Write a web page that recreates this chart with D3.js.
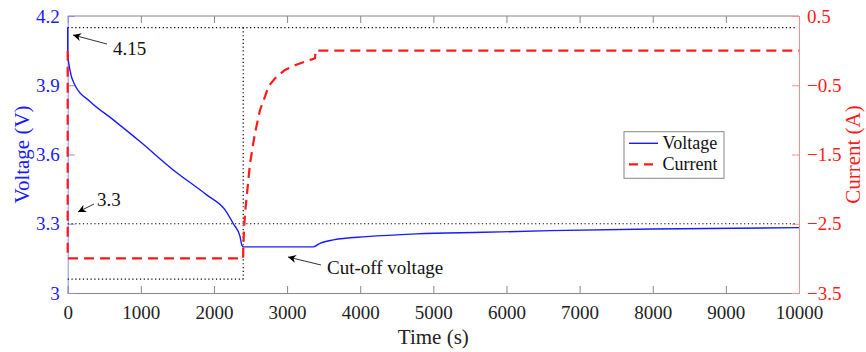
<!DOCTYPE html>
<html>
<head>
<meta charset="utf-8">
<script src="https://cdn.jsdelivr.net/npm/d3@7"></script>
<style>
  body { margin: 0; background: #fff; }
</style>
</head>
<body>
<div class="container"></div>
<script>
// voltage (V) vs time (s)
const voltageTime = [0, 0, 31, 100, 305, 624, 989, 1444, 1900, 2151, 2265, 2357, 2380, 2400, 3360, 3450, 3632, 4088, 4772, 5680, 6595, 8000, 10000]
const voltageVals = [4.15, 4.04, 3.966, 3.90, 3.83, 3.75, 3.656, 3.533, 3.425, 3.36, 3.30, 3.244, 3.208, 3.20, 3.20, 3.215, 3.23, 3.244, 3.256, 3.263, 3.27, 3.277, 3.283]

// current (A) vs time (s)
const currentTime = [0, 0, 2400, 2400, 2410, 2425, 2493, 2561, 2630, 2698, 2743, 2835, 2971, 3108, 3382, 3390, 10000]
const currentVals = [0, -3, -3, -2.9, -2.6, -2.35, -1.63, -1.19, -0.857, -0.665, -0.52, -0.40, -0.28, -0.21, -0.11, 0, 0]

const xTicks = [0, 1000, 2000, 3000, 4000, 5000, 6000, 7000, 8000, 9000, 10000]
const vTicks = [3, 3.3, 3.6, 3.9, 4.2]
const iTicks = [0.5, -0.5, -1.5, -2.5, -3.5]

const margin = {top: 16, left: 67.7, right: 67, bottom: 59}
const W = 866, H = 352
const w = W - margin.left - margin.right
const h = H - margin.top - margin.bottom
const serif = 'Liberation Serif'

const root = d3.select('.container')
    .append('svg')
    .attr('width', W)
    .attr('height', H)
    .attr('font-family', serif)
const svg = root.append('g')
    .attr('transform', `translate(${margin.left}, ${margin.top})`)

const x = d3.scaleLinear().domain([0, 10000]).range([0, w])
const yV = d3.scaleLinear().domain([3, 4.2]).range([h, 0])
const yI = d3.scaleLinear().domain([-3.5, 0.5]).range([h, 0])

const blue = '#1a1aff', red = '#ff1a1a'

// axes
const xAxisB = svg.append('g').attr('transform', `translate(0, ${h})`)
    .call(d3.axisBottom(x).tickValues(xTicks).tickSize(-7).tickPadding(13).tickFormat(d3.format('d')))
const xAxisT = svg.append('g')
    .call(d3.axisTop(x).tickValues(xTicks).tickSize(-7).tickFormat(''))
;[xAxisB, xAxisT].forEach(g => {
    g.selectAll('path, line').attr('stroke', '#888')
    g.selectAll('text').attr('fill', '#222')
})
xAxisT.select('.domain').remove()
svg.append('line').attr('x1', 0).attr('x2', w).attr('y1', 0).attr('y2', 0).attr('stroke', '#888')

const yAxisL = svg.append('g')
    .call(d3.axisLeft(yV).tickValues(vTicks).tickSize(-7).tickPadding(8).tickFormat(d3.format('')))
yAxisL.selectAll('path, line').attr('stroke', '#8a8aff')
yAxisL.selectAll('text').attr('fill', blue)

const yAxisR = svg.append('g').attr('transform', `translate(${w}, 0)`)
    .call(d3.axisRight(yI).tickValues(iTicks).tickSize(-7).tickPadding(8).tickFormat(d3.format('')))
yAxisR.selectAll('path, line').attr('stroke', '#ff8a8a')
yAxisR.selectAll('text').attr('fill', red)

;[xAxisB, xAxisT, yAxisL, yAxisR].forEach(g => g.attr('font-family', serif).attr('font-size', 19))
svg.selectAll('.domain').attr('fill', 'none')

// dotted guides
const dotted = (x1, y1, x2, y2) => svg.append('line')
    .attr('x1', x1).attr('y1', y1).attr('x2', x2).attr('y2', y2)
    .attr('stroke', '#000').attr('stroke-width', 1.2).attr('stroke-dasharray', '1.2,2.6')
dotted(x(0), yV(4.15), x(9970), yV(4.15))
dotted(x(0), yV(3.3), x(9970), yV(3.3))
dotted(x(0), yV(3.06), x(2400), yV(3.06))
dotted(x(2400), yV(4.15), x(2400), yV(3.06))

// series
const vData = voltageTime.map((t, i) => [t, voltageVals[i]])
const iData = currentTime.map((t, i) => [t, currentVals[i]])

svg.append('path').datum(vData)
    .attr('fill', 'none').attr('stroke', blue).attr('stroke-width', 1.4)
    .attr('d', d3.line().x(d => x(d[0])).y(d => yV(d[1])).curve(d3.curveMonotoneX))

svg.append('path').datum(iData)
    .attr('fill', 'none').attr('stroke', red).attr('stroke-width', 2.2)
    .attr('stroke-dasharray', '10,6')
    .attr('d', d3.line().x(d => x(d[0])).y(d => yI(d[1])))

// axis titles
svg.append('text').attr('x', w / 2).attr('y', h + 51).attr('text-anchor', 'middle')
    .attr('font-size', 21).attr('fill', '#222').text('Time (s)')
svg.append('text').attr('transform', `translate(${-39}, ${h / 2}) rotate(-90)`)
    .attr('text-anchor', 'middle').attr('font-size', 21).attr('fill', blue).text('Voltage (V)')
svg.append('text').attr('transform', `translate(${w + 61}, ${h / 2}) rotate(-90)`)
    .attr('text-anchor', 'middle').attr('font-size', 21).attr('fill', red).text('Current (A)')

// legend
const lg = svg.append('g').attr('transform', `translate(${624 - margin.left}, ${131.7 - margin.top})`)
lg.append('rect').attr('width', 100).attr('height', 46.6).attr('fill', '#fff').attr('stroke', '#888')
lg.append('line').attr('x1', 5).attr('x2', 34).attr('y1', 11.6).attr('y2', 11.6).attr('stroke', blue).attr('stroke-width', 1.4)
lg.append('line').attr('x1', 5).attr('x2', 34).attr('y1', 32.6).attr('y2', 32.6).attr('stroke', red).attr('stroke-width', 2.2).attr('stroke-dasharray', '9,6')
lg.append('text').attr('x', 38.5).attr('y', 17.5).attr('font-size', 18).attr('fill', '#111').text('Voltage')
lg.append('text').attr('x', 38.5).attr('y', 38.5).attr('font-size', 18).attr('fill', '#111').text('Current')

// annotations
svg.append('defs').append('marker').attr('id', 'arr')
    .attr('viewBox', '0 0 10 10').attr('refX', 0).attr('refY', 5)
    .attr('markerWidth', 11).attr('markerHeight', 8).attr('orient', 'auto')
    .attr('markerUnits', 'userSpaceOnUse')
    .append('path').attr('d', 'M0,5 L10,0 L7,5 L10,10 Z').attr('fill', '#000')

const note = (label, tx, ty, x1, y1, x2, y2) => {
    svg.append('line').attr('x1', x1 - margin.left).attr('y1', y1 - margin.top)
        .attr('x2', x2 - margin.left).attr('y2', y2 - margin.top)
        .attr('stroke', '#333').attr('stroke-width', 1).attr('marker-start', 'url(#arr)')
    svg.append('text').attr('x', tx - margin.left).attr('y', ty - margin.top)
        .attr('font-size', 19).attr('fill', '#111').text(label)
}
note('4.15', 113, 55, 73, 35, 107, 44)
note('3.3', 97, 206, 78, 212, 94, 204)
note('Cut-off voltage', 327, 274, 288, 257, 321, 265)
</script>
</body>
</html>
